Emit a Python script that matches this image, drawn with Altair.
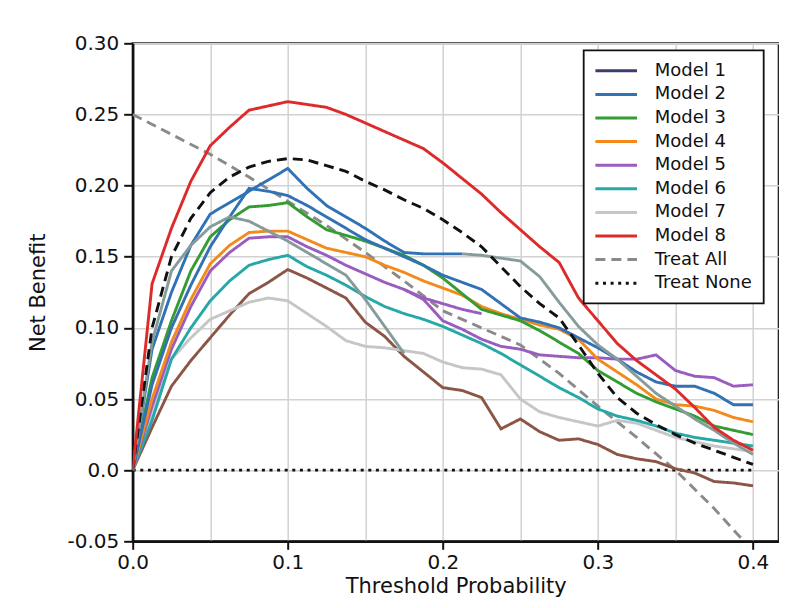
import altair as alt
import pandas as pd

# threshold probabilities (x)
thresholds = [0.0, 0.0125, 0.025, 0.0375, 0.05, 0.0625, 0.075, 0.0875, 0.1, 0.1125,
              0.125, 0.1375, 0.15, 0.1625, 0.175, 0.1875, 0.2, 0.2125, 0.225, 0.2375,
              0.25, 0.2625, 0.275, 0.2875, 0.3, 0.3125, 0.325, 0.3375, 0.35, 0.3625,
              0.375, 0.3875, 0.4]

model8 = [0, .131, .170, .203, .228, .241, .253, .256, .259, .257, .255, .250, .244, .238,
          .232, .226, .216, .205, .194, .181, .169, .157, .146, .121, .105, .089, .077,
          .067, .057, .044, .030, .021, .014]
black_dash = [0, .100, .150, .177, .195, .206, .213, .217, .219, .218, .214, .210, .203,
              .197, .190, .184, .176, .167, .157, .143, .129, .117, .107, .088, .068, .051,
              .040, .032, .025, .019, .014, .009, .004]
model2 = [0, .085, .125, .158, .180, .188, .196, .204, .212, .198, .186, .178, .170, .161,
          .153, .152, .152, .152] + [None] * 15
gray_tail = [None] * 17 + [.152, .151, .149, .147, .136, .118, .101, .088, .078, .066,
                           .054, .045, .036, .028, .019, .011]
model1 = [0, .060, .100, .130, .157, .178, .198, .196, .193, .186, .178, .170, .162, .156,
          .150, .144, .137, .132, .127, .117, .107, .104, .100, .093, .086, .078, .069,
          .062, .059, .059, .054, .046, .046]
gray_early = [0, .090, .140, .158, .171, .178, .175, .168, .161, .153, .145, .137, .120,
              .101, .082] + [None] * 18
model3 = [0, .065, .105, .140, .164, .176, .185, .186, .188, .178, .169, .165, .161, .156,
          .151, .144, .135, .124, .113, .109, .105, .098, .090, .082, .070, .062, .054,
          .048, .043, .038, .031, .028, .025]
model4 = [0, .050, .090, .120, .145, .158, .167, .168, .168, .162, .156, .153, .150, .144,
          .139, .133, .128, .123, .115, .110, .106, .102, .099, .092, .078, .069, .060,
          .050, .046, .045, .042, .037, .034]
model5 = [0, .045, .085, .115, .140, .153, .163, .164, .164, .157, .151, .144, .138, .132,
          .127, .120, .105, .099, .092, .087, .085, .081, .080, .079, .079, .078, .078,
          .081, .070, .066, .065, .059, .060]
purple_branch = [None] * 14 + [.127, .121, .117, .113, .110] + [None] * 14
model6 = [0, .035, .078, .100, .119, .133, .144, .148, .151, .143, .137, .130, .122, .115,
          .110, .106, .101, .095, .089, .082, .074, .066, .058, .051, .043, .038, .035,
          .031, .026, .023, .021, .019, .017]
model7 = [0, .040, .078, .093, .106, .112, .118, .121, .119, .110, .101, .091, .087, .086,
          .084, .082, .076, .072, .071, .067, .050, .041, .037, .034, .031, .035, .033,
          .028, .023, .020, .017, .015, .013]
brown = [0, .030, .059, .077, .093, .109, .124, .132, .141, .135, .128, .121, .104, .094,
         .080, .069, .058, .056, .051, .029, .036, .027, .021, .022, .018, .011, .008,
         .006, .001, -.002, -.008, -.009, -.011]

treat_all_t = [0.0, 0.025, 0.05, 0.075, 0.1, 0.125, 0.15, 0.175, 0.2, 0.225, 0.25, 0.275,
               0.3, 0.325, 0.35, 0.375, 0.4]
treat_all = [.250, .236, .222, .206, .189, .172, .153, .133, .112, .100, .088, .068, .045,
             .023, .000, -.027, -.057]
treat_none_t = [0.0, 0.4]
treat_none = [0.0, 0.0]

# series: id, colour, dash  (draw order = list order)
SOLID = [1, 0]
series = [
    ("Treat None", "#111111", [3, 4.6], treat_none_t, treat_none),
    ("Treat All", "#8a8a8a", [10, 6], treat_all_t, treat_all),
    ("x_brown", "#8b5646", SOLID, thresholds, brown),
    ("Model 7", "#c6c6c6", SOLID, thresholds, model7),
    ("Model 6", "#27a8a8", SOLID, thresholds, model6),
    ("x_purple", "#9a5cbf", SOLID, thresholds, purple_branch),
    ("Model 5", "#9a5cbf", SOLID, thresholds, model5),
    ("Model 4", "#f28a1c", SOLID, thresholds, model4),
    ("Model 3", "#339c33", SOLID, thresholds, model3),
    ("x_blue", "#3271b4", SOLID, thresholds, model1),
    ("Model 2", "#2f72b6", SOLID, thresholds, model2),
    ("x_gray1", "#869c9c", SOLID, thresholds, gray_early),
    ("x_gray2", "#869c9c", SOLID, thresholds, gray_tail),
    ("x_black", "#111111", [10, 6], thresholds, black_dash),
    ("Model 8", "#dd2a2a", SOLID, thresholds, model8),
]

rows = []
for sid, col, dash, xs, ys in series:
    for t, v in zip(xs, ys):
        if v is not None:
            rows.append({"t": t, "nb": v, "series": sid})
df = pd.DataFrame(rows)

# legend-only entry (swatch colour of Model 1 in the key)
domain = [s[0] for s in series] + ["Model 1"]
colors = [s[1] for s in series] + ["#3d3d70"]
dashes = [s[2] for s in series] + [SOLID]
legend_labels = ["Model 1", "Model 2", "Model 3", "Model 4", "Model 5", "Model 6",
                 "Model 7", "Model 8", "Treat All", "Treat None"]

FONT = "DejaVu Sans"

leg = alt.Legend(
    title=None, values=legend_labels, orient="none", legendX=451, legendY=7,
    symbolType="M-2.6,0H2.6", symbolSize=256, symbolStrokeWidth=3,
    symbolOffset=12, rowPadding=4.6,
    labelFont=FONT, labelFontSize=18, labelColor="#111111", labelOffset=29,
    padding=11, strokeColor="#111111", fillColor="white",
)

xaxis = alt.Axis(
    title="Threshold Probability",
    values=[0.0, 0.05, 0.1, 0.15, 0.2, 0.25, 0.3, 0.35, 0.4],
    labelExpr="abs(datum.value*10 - round(datum.value*10)) < 0.001 ? format(datum.value, '.1f') : ''",
    tickOpacity={"condition": {"test": "abs(datum.value*10 - round(datum.value*10)) < 0.001", "value": 1}, "value": 0},
    tickSize=8, labelPadding=3, titlePadding=3, labelFlush=False,
)
yaxis = alt.Axis(
    title="Net Benefit",
    values=[-0.05, 0.0, 0.05, 0.1, 0.15, 0.2, 0.25, 0.3],
    labelExpr="datum.value == 0 ? '0.0' : (datum.value < 0 ? '-' + format(-datum.value, '.2f') : format(datum.value, '.2f'))",
    tickSize=9, labelPadding=5, titlePadding=18, labelFlush=False,
)

chart = alt.Chart(df).mark_line(clip=True, strokeWidth=2.9).encode(
    x=alt.X("t:Q", scale=alt.Scale(domain=[0, 0.4166], nice=False, zero=False), axis=xaxis),
    y=alt.Y("nb:Q", scale=alt.Scale(domain=[-0.05, 0.30], nice=False, zero=False), axis=yaxis),
    color=alt.Color("series:N", scale=alt.Scale(domain=domain, range=colors), legend=leg),
    strokeDash=alt.StrokeDash("series:N", scale=alt.Scale(domain=domain, range=dashes), legend=leg),
).properties(
    width=646, height=498,
    padding={"left": 124.7, "top": 35.3, "right": 0, "bottom": 57},
    autosize=alt.AutoSizeParams(type="none"),
).configure_view(
    stroke="#222222", strokeWidth=2,
).configure_axis(
    labelFont=FONT, titleFont=FONT, labelFontSize=20, titleFontSize=21,
    labelColor="#111111", titleColor="#111111", titleFontWeight="normal",
    gridColor="#d2d2d2", gridWidth=1.5, domainColor="#111111", domainWidth=2.5,
    tickColor="#111111", tickWidth=2,
).configure_legend(
    strokeWidth=1.8,
)

chart.save("out.html", embed_options={"renderer": "svg", "actions": False})
